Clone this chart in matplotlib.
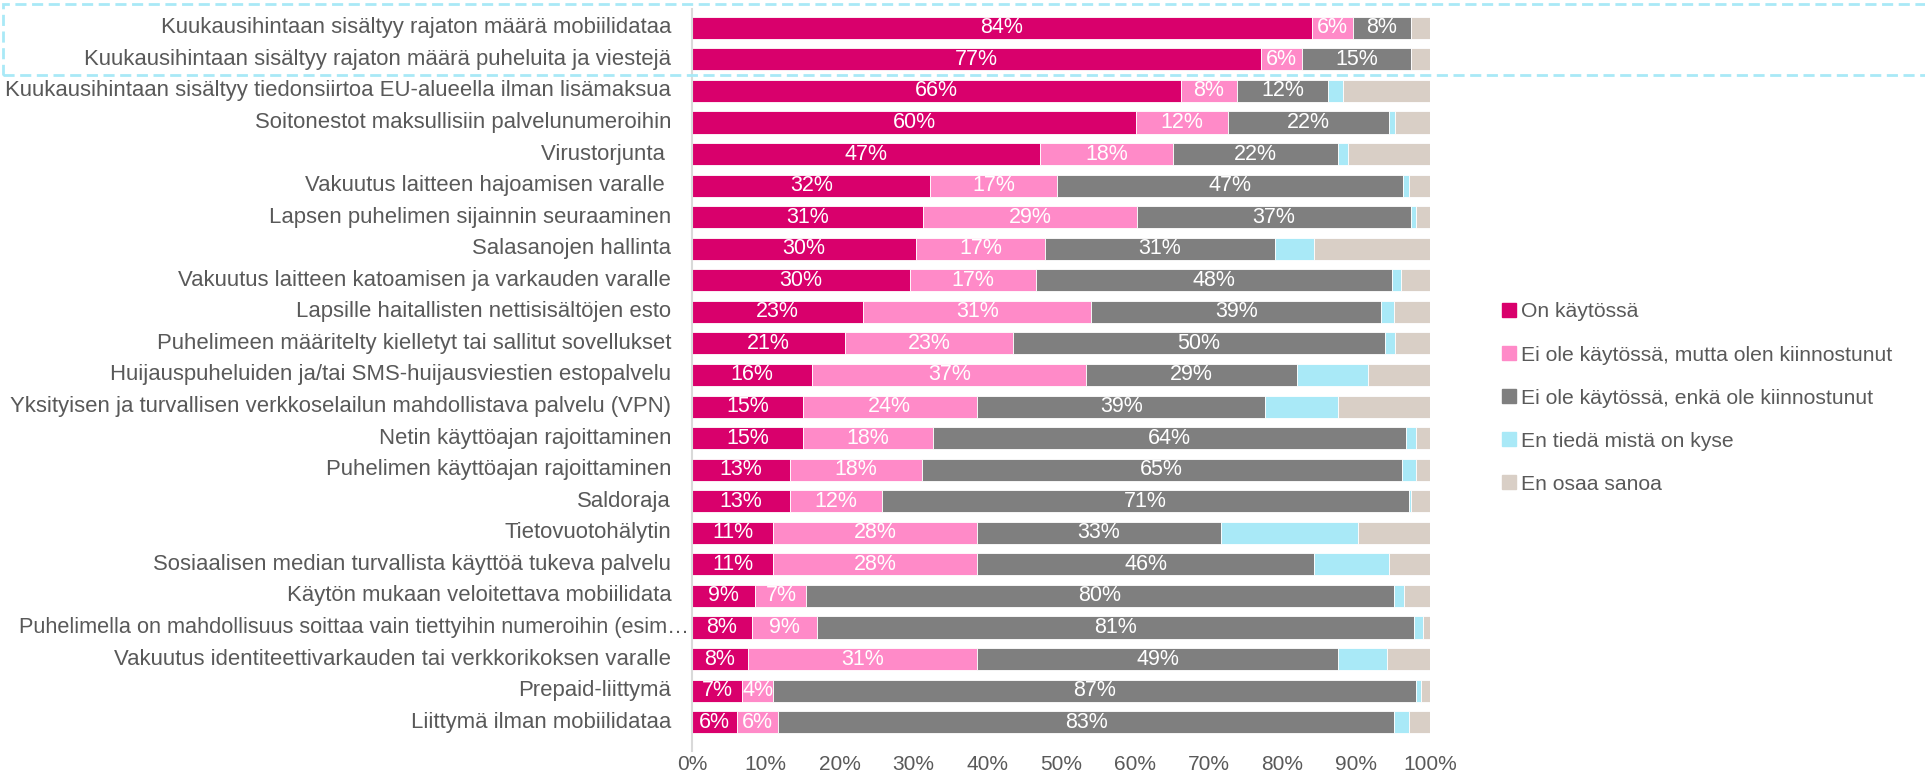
import numpy as np
import matplotlib.pyplot as plt
from matplotlib.patches import Rectangle

# categories, top to bottom
categories = [
    "Kuukausihintaan sisältyy rajaton määrä mobiilidataa",
    "Kuukausihintaan sisältyy rajaton määrä puheluita ja viestejä",
    "Kuukausihintaan sisältyy tiedonsiirtoa EU-alueella ilman lisämaksua",
    "Soitonestot maksullisiin palvelunumeroihin",
    "Virustorjunta ",
    "Vakuutus laitteen hajoamisen varalle ",
    "Lapsen puhelimen sijainnin seuraaminen",
    "Salasanojen hallinta",
    "Vakuutus laitteen katoamisen ja varkauden varalle",
    "Lapsille haitallisten nettisisältöjen esto",
    "Puhelimeen määritelty kielletyt tai sallitut sovellukset",
    "Huijauspuheluiden ja/tai SMS-huijausviestien estopalvelu",
    "Yksityisen ja turvallisen verkkoselailun mahdollistava palvelu (VPN)",
    "Netin käyttöajan rajoittaminen",
    "Puhelimen käyttöajan rajoittaminen",
    "Saldoraja",
    "Tietovuotohälytin",
    "Sosiaalisen median turvallista käyttöä tukeva palvelu",
    "Käytön mukaan veloitettava mobiilidata",
    "Puhelimella on mahdollisuus soittaa vain tiettyihin numeroihin (esim…",
    "Vakuutus identiteettivarkauden tai verkkorikoksen varalle",
    "Prepaid-liittymä",
    "Liittymä ilman mobiilidataa",
]

series_names = [
    "On käytössä",
    "Ei ole käytössä, mutta olen kiinnostunut",
    "Ei ole käytössä, enkä ole kiinnostunut",
    "En tiedä mistä on kyse",
    "En osaa sanoa",
]

on_kaytossa = [84.0, 77.1, 66.2, 60.2, 47.1, 32.3, 31.3, 30.4, 29.6, 23.2, 20.7, 16.3,
               15.0, 15.0, 13.3, 13.3, 11.0, 11.0, 8.6, 8.1, 7.6, 6.8, 6.1]
kiinnostunut = [5.6, 5.6, 7.6, 12.4, 18.1, 17.2, 29.0, 17.4, 17.0, 30.9, 22.8, 37.1,
                23.6, 17.7, 17.8, 12.4, 27.6, 27.6, 6.9, 8.9, 31.0, 4.2, 5.6]
ei_kiinnostunut = [7.8, 14.7, 12.4, 21.9, 22.4, 46.9, 37.1, 31.2, 48.2, 39.3, 50.4, 28.6,
                   39.1, 64.1, 65.1, 71.4, 33.1, 45.7, 79.6, 80.8, 49.0, 87.1, 83.4]
en_tieda = [0.0, 0.0, 2.0, 0.7, 1.3, 0.7, 0.7, 5.3, 1.3, 1.7, 1.3, 9.6,
            9.9, 1.3, 1.9, 0.3, 18.6, 10.2, 1.4, 1.3, 6.6, 0.7, 2.0]
en_osaa = [2.6, 2.6, 11.8, 4.8, 11.1, 2.9, 1.9, 15.7, 3.9, 4.9, 4.8, 8.4,
           12.4, 1.9, 1.9, 2.6, 9.7, 5.5, 3.5, 0.9, 5.8, 1.2, 2.9]

xticks = [0, 10, 20, 30, 40, 50, 60, 70, 80, 90, 100]

colors = ["#D9006C", "#FF8AC8", "#7F7F7F", "#A9E9F7", "#D9CFC6"]
text_gray = "#595959"
narrow = ["Liberation Sans Narrow", "Liberation Sans", "DejaVu Sans"]

data = [on_kaytossa, kiinnostunut, ei_kiinnostunut, en_tieda, en_osaa]

fig = plt.figure(figsize=(19.25, 7.73), dpi=100)
ax = fig.add_axes([692 / 1925, 1 - 738 / 773, (1430 - 692) / 1925, (738 - 12) / 773])

y = np.arange(len(categories))
left = np.zeros(len(categories))
for k, vals in enumerate(data):
    vals = np.array(vals)
    ax.barh(y, vals, left=left, height=0.7, color=colors[k],
            edgecolor="white", linewidth=0.6, label=series_names[k])
    if k < 3:
        for i, v in enumerate(vals):
            ax.text(left[i] + v / 2, y[i], "%d%%" % round(v), ha="center", va="center",
                    color="white", fontsize=15.5, family=narrow)
    left += vals

ax.set_xlim(0, 100)
ax.set_ylim(len(categories) - 0.5, -0.5)
ax.set_yticks([])

# category labels (the truncated one sits closer to the axis, as in the original)
for i, cat in enumerate(categories):
    truncated = cat.endswith("…")
    ax.annotate(cat, xy=(0, i), xycoords=("axes fraction", "data"),
                xytext=(-2 if truncated else -15, 0), textcoords="offset points",
                ha="right", va="center", fontsize=15.7 if truncated else 15.9,
                color=text_gray, family=narrow, annotation_clip=False)

ax.set_xticks(xticks)
ax.set_xticklabels(["%d%%" % t for t in xticks], fontsize=15, color=text_gray, family=narrow)
ax.tick_params(axis="both", length=0)
ax.tick_params(axis="x", pad=12)
for s in ["top", "right", "bottom"]:
    ax.spines[s].set_visible(False)
ax.spines["left"].set_color("#D9D9D9")
ax.spines["left"].set_linewidth(1.5)
ax.spines["left"].set_bounds(len(categories) - 0.1, -0.6)

# legend
handles = [plt.Line2D([], [], marker="s", linestyle="", markersize=10, color=c) for c in colors]
fig.legend(handles, series_names, loc="upper left", bbox_to_anchor=(1494 / 1925, 1 - 294 / 773),
           frameon=False, labelcolor=text_gray, handlelength=0.6,
           handletextpad=0.3, labelspacing=1.14, borderaxespad=0,
           prop={"family": ["Liberation Sans", "DejaVu Sans"], "size": 15.2})

# dashed highlight box around the first two rows
fig.patches.append(Rectangle((3 / 1925, 1 - 75 / 773), 1925 / 1925, 71 / 773,
                             transform=fig.transFigure, fill=False, edgecolor="#A9E9F7",
                             linewidth=2, linestyle=(0, (4, 2))))

fig.savefig("out.png", dpi=100)
